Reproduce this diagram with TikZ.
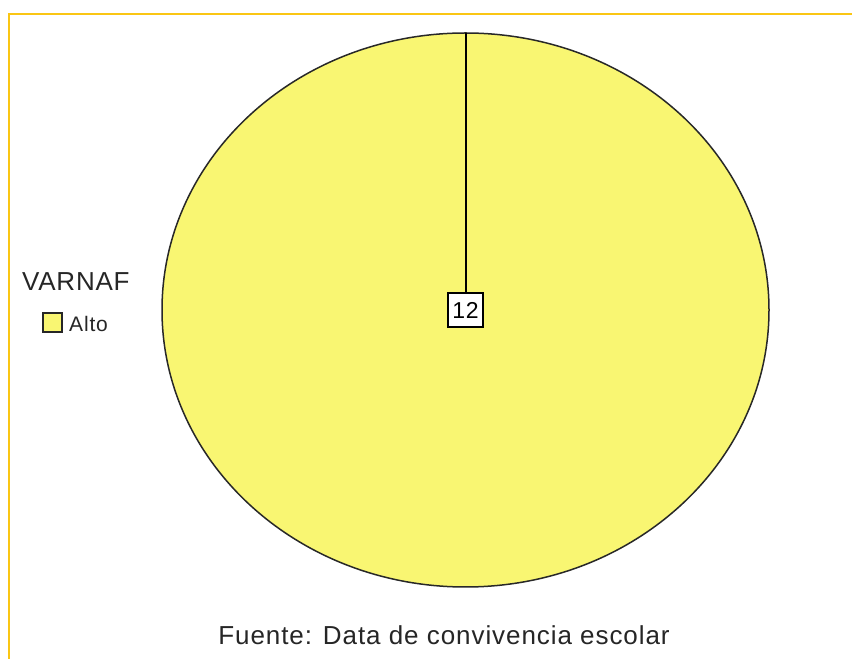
\documentclass[tikz,border=0pt]{standalone}
\usepackage{fontspec}
\setmainfont{Liberation Sans}
\definecolor{pieyellow}{RGB}{249,246,114}
\definecolor{framegold}{RGB}{250,198,20}
\definecolor{outline}{RGB}{40,40,40}
\tikzset{
  txt/.style={inner sep=0pt, text=black!85},
  valbox/.style={draw=black, line width=1.8pt, fill=white, minimum width=35pt, minimum height=34pt, inner sep=0pt},
  legbox/.style={draw=black!85, line width=1.3pt, fill=pieyellow, minimum size=19pt, inner sep=0pt},
}
\begin{document}
\begin{tikzpicture}[x=1pt,y=1pt]
\useasboundingbox (0,0) rectangle (852,659);
\fill[white] (0,0) rectangle (852,659);
% frame
\draw[framegold, line width=2.5pt] (9,-2) -- (9,645) -- (854,645);
% pie
\coordinate (c) at (465.5,349);
\draw[outline, line width=1.5pt, fill=pieyellow] (c) ellipse [x radius=303.5, y radius=277];
\coordinate (top) at (465.5,626);
\node[valbox] (v) at (465.5,349) {\fontsize{23}{26}\selectfont\addfontfeatures{LetterSpace=3}12};
\draw[black, line width=2pt] (top) -- (v.north);
% legend
\node[txt, anchor=west] (title) at (22,377) {\fontsize{26}{30}\selectfont\addfontfeatures{LetterSpace=3}VARNAF};
\node[legbox] (sw) at (52.5,336.5) {};
\node[txt, anchor=west] (alto) at (69,335) {\fontsize{21}{24}\selectfont\addfontfeatures{LetterSpace=4}Alto};
% source
\node[txt] (src) at (444,24) {\fontsize{26}{30}\selectfont\addfontfeatures{LetterSpace=3.6}Fuente: Data de convivencia escolar};
\end{tikzpicture}
\end{document}
